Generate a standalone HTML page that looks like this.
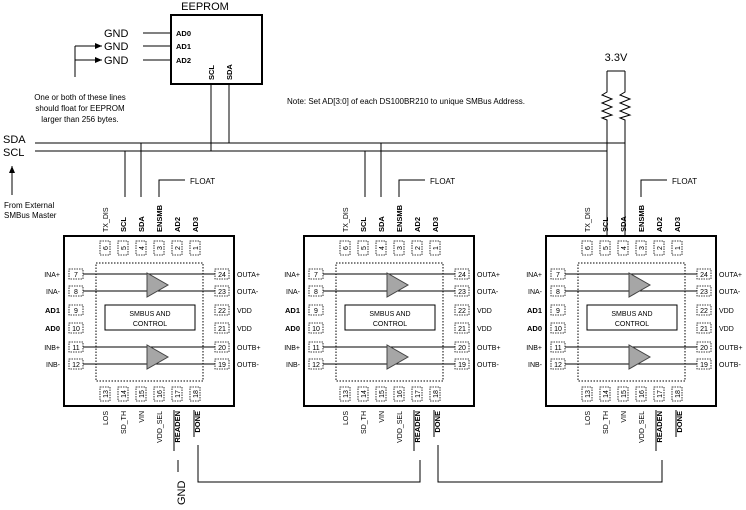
<!DOCTYPE html>
<html><head><style>
html,body{margin:0;padding:0;background:#fff;}
svg{display:block;font-family:"Liberation Sans",Arial,sans-serif;}
.s{font-size:8px;fill:#000}
.b{font-size:7.5px;font-weight:bold;fill:#000}
.n{font-size:7px;fill:#000}
.l{font-size:11px;fill:#000}
</style></head><body>
<svg width="746" height="510" viewBox="0 0 746 510" xmlns="http://www.w3.org/2000/svg">
<defs><marker id="ar" markerWidth="8" markerHeight="8" refX="7" refY="4" orient="auto" markerUnits="userSpaceOnUse"><path d="M0,1 L7,4 L0,7 Z" fill="#000"/></marker></defs>
<g stroke="#000" fill="none" stroke-width="1">
<!-- EEPROM -->
<rect x="171" y="15" width="91" height="69" stroke-width="2"/>
<line x1="143" y1="33" x2="171" y2="33"/><line x1="143" y1="46" x2="171" y2="46"/><line x1="143" y1="60" x2="171" y2="60"/>
<line x1="75" y1="77" x2="75" y2="46"/><line x1="75" y1="46" x2="102" y2="46" marker-end="url(#ar)"/><line x1="75" y1="60" x2="102" y2="60" marker-end="url(#ar)"/>
<line x1="211" y1="84" x2="211" y2="151"/><line x1="229" y1="84" x2="229" y2="143"/>
<!-- bus -->
<line x1="35" y1="143" x2="625" y2="143"/><line x1="35" y1="151" x2="607" y2="151"/>
<line x1="12" y1="195" x2="12" y2="166" marker-end="url(#ar)"/>
<!-- resistors -->
<polyline points="607,71 625,71"/>
<polyline points="607,71 607,92 602,95 612,99 602,103 612,107 602,111 612,115 602,118 607,120 607,236"/>
<polyline points="625,71 625,92 620,95 630,99 620,103 630,107 620,111 630,115 620,118 625,120 625,236"/>
<!-- chip1 wires -->
<line x1="125" y1="151" x2="125" y2="197"/><line x1="141" y1="143" x2="141" y2="197"/>
<line x1="365" y1="151" x2="365" y2="197"/><line x1="381" y1="143" x2="381" y2="197"/>
<!-- bottom -->
<line x1="178" y1="460" x2="178" y2="472"/>
<polyline points="198,445 198,482 420,482 420,460"/>
<polyline points="438,445 438,482 662,482 662,460"/>
</g>
<text x="205" y="10" class="l" text-anchor="middle" font-size="10">EEPROM</text>
<text x="104" y="37" class="l">GND</text><text x="104" y="50" class="l">GND</text><text x="104" y="64" class="l">GND</text>
<text x="176" y="36" class="b">AD0</text><text x="176" y="49" class="b">AD1</text><text x="176" y="63" class="b">AD2</text>
<text transform="translate(214,80) rotate(-90)" class="b">SCL</text>
<text transform="translate(232,80) rotate(-90)" class="b">SDA</text>
<text x="80" y="100" class="s" text-anchor="middle">One or both of these lines</text>
<text x="80" y="111" class="s" text-anchor="middle">should float for EEPROM</text>
<text x="80" y="122" class="s" text-anchor="middle">larger than 256 bytes.</text>
<text x="287" y="104" class="s">Note:  Set AD[3:0] of each DS100BR210 to unique SMBus Address.</text>
<text x="616" y="61" class="l" text-anchor="middle" font-size="10">3.3V</text>
<text x="3" y="143" class="l">SDA</text><text x="3" y="156" class="l">SCL</text>
<text x="4" y="208" class="s">From External</text><text x="4" y="218" class="s">SMBus Master</text>
<text transform="translate(185,505) rotate(-90)" class="l">GND</text>

<!-- CHIP TEMPLATE x3 -->
<g id="c1">
<g stroke="#000" fill="none">
<rect x="64" y="236" width="170" height="170" stroke-width="2"/>
<rect x="96" y="263" width="107" height="118" stroke-dasharray="1.5,1.5"/>
<rect x="105" y="305" width="90" height="25"/>
<line x1="83" y1="274" x2="215" y2="274"/><line x1="83" y1="291" x2="215" y2="291"/>
<line x1="83" y1="347" x2="215" y2="347"/><line x1="83" y1="364" x2="215" y2="364"/>
<polyline points="159,197 159,180 185,180"/>
<g stroke-dasharray="1.5,1" stroke-width="0.8">
<rect x="100" y="241" width="10" height="14"/><rect x="118" y="241" width="10" height="14"/><rect x="136" y="241" width="10" height="14"/><rect x="154" y="241" width="10" height="14"/><rect x="172" y="241" width="10" height="14"/><rect x="190" y="241" width="10" height="14"/>
<rect x="100" y="387" width="10" height="14"/><rect x="118" y="387" width="10" height="14"/><rect x="136" y="387" width="10" height="14"/><rect x="154" y="387" width="10" height="14"/><rect x="172" y="387" width="10" height="14"/><rect x="190" y="387" width="10" height="14"/>
<rect x="69" y="269" width="14" height="10" fill="#fff"/><rect x="69" y="286" width="14" height="10" fill="#fff"/><rect x="69" y="305" width="14" height="10"/><rect x="69" y="323" width="14" height="10"/><rect x="69" y="342" width="14" height="10" fill="#fff"/><rect x="69" y="359" width="14" height="10" fill="#fff"/>
<rect x="215" y="269" width="14" height="10" fill="#fff"/><rect x="215" y="286" width="14" height="10" fill="#fff"/><rect x="215" y="305" width="14" height="10"/><rect x="215" y="323" width="14" height="10"/><rect x="215" y="342" width="14" height="10" fill="#fff"/><rect x="215" y="359" width="14" height="10" fill="#fff"/>
</g>
<line x1="174" y1="451" x2="174" y2="410"/><line x1="194" y1="437" x2="194" y2="410"/>
</g>
<polygon points="147,273 147,297 168,285" fill="#a6a6a6" stroke="#444"/>
<polygon points="147,345 147,369 168,357" fill="#a6a6a6" stroke="#444"/>
<text x="150" y="316" class="n" text-anchor="middle">SMBUS AND</text><text x="150" y="326" class="n" text-anchor="middle">CONTROL</text>
<text x="190" y="184" class="s">FLOAT</text>
<text x="76" y="277" class="n" text-anchor="middle">7</text><text x="76" y="294" class="n" text-anchor="middle">8</text><text x="76" y="313" class="n" text-anchor="middle">9</text><text x="76" y="331" class="n" text-anchor="middle">10</text><text x="76" y="350" class="n" text-anchor="middle">11</text><text x="76" y="367" class="n" text-anchor="middle">12</text>
<text x="222" y="277" class="n" text-anchor="middle">24</text><text x="222" y="294" class="n" text-anchor="middle">23</text><text x="222" y="313" class="n" text-anchor="middle">22</text><text x="222" y="331" class="n" text-anchor="middle">21</text><text x="222" y="350" class="n" text-anchor="middle">20</text><text x="222" y="367" class="n" text-anchor="middle">19</text>
<text x="60" y="277" class="n" text-anchor="end">INA+</text><text x="60" y="294" class="n" text-anchor="end">INA-</text><text x="60" y="313" class="b" text-anchor="end">AD1</text><text x="60" y="331" class="b" text-anchor="end">AD0</text><text x="60" y="350" class="n" text-anchor="end">INB+</text><text x="60" y="367" class="n" text-anchor="end">INB-</text>
<text x="237" y="277" class="n">OUTA+</text><text x="237" y="294" class="n">OUTA-</text><text x="237" y="313" class="n">VDD</text><text x="237" y="331" class="n">VDD</text><text x="237" y="350" class="n">OUTB+</text><text x="237" y="367" class="n">OUTB-</text>
<text transform="translate(108,248) rotate(-90)" class="n" text-anchor="middle">6</text><text transform="translate(126,248) rotate(-90)" class="n" text-anchor="middle">5</text><text transform="translate(144,248) rotate(-90)" class="n" text-anchor="middle">4</text><text transform="translate(162,248) rotate(-90)" class="n" text-anchor="middle">3</text><text transform="translate(180,248) rotate(-90)" class="n" text-anchor="middle">2</text><text transform="translate(198,248) rotate(-90)" class="n" text-anchor="middle">1</text>
<text transform="translate(108,394) rotate(-90)" class="n" text-anchor="middle">13</text><text transform="translate(126,394) rotate(-90)" class="n" text-anchor="middle">14</text><text transform="translate(144,394) rotate(-90)" class="n" text-anchor="middle">15</text><text transform="translate(162,394) rotate(-90)" class="n" text-anchor="middle">16</text><text transform="translate(180,394) rotate(-90)" class="n" text-anchor="middle">17</text><text transform="translate(198,394) rotate(-90)" class="n" text-anchor="middle">18</text>
<text transform="translate(108,232) rotate(-90)" class="n">TX_DIS</text><text transform="translate(126,232) rotate(-90)" class="b">SCL</text><text transform="translate(144,232) rotate(-90)" class="b">SDA</text><text transform="translate(162,232) rotate(-90)" class="b">ENSMB</text><text transform="translate(180,232) rotate(-90)" class="b">AD2</text><text transform="translate(198,232) rotate(-90)" class="b">AD3</text>
<text transform="translate(108,411) rotate(-90)" class="n" text-anchor="end">LOS</text><text transform="translate(126,411) rotate(-90)" class="n" text-anchor="end">SD_TH</text><text transform="translate(144,411) rotate(-90)" class="n" text-anchor="end">VIN</text><text transform="translate(162,411) rotate(-90)" class="n" text-anchor="end">VDD_SEL</text><text transform="translate(180,411) rotate(-90)" class="b" text-anchor="end">READEN</text><text transform="translate(200,411) rotate(-90)" class="b" text-anchor="end">DONE</text>
</g>

<g transform="translate(240,0)">
<g stroke="#000" fill="none">
<rect x="64" y="236" width="170" height="170" stroke-width="2"/>
<rect x="96" y="263" width="107" height="118" stroke-dasharray="1.5,1.5"/>
<rect x="105" y="305" width="90" height="25"/>
<line x1="83" y1="274" x2="215" y2="274"/><line x1="83" y1="291" x2="215" y2="291"/>
<line x1="83" y1="347" x2="215" y2="347"/><line x1="83" y1="364" x2="215" y2="364"/>
<polyline points="159,197 159,180 185,180"/>
<g stroke-dasharray="1.5,1" stroke-width="0.8">
<rect x="100" y="241" width="10" height="14"/><rect x="118" y="241" width="10" height="14"/><rect x="136" y="241" width="10" height="14"/><rect x="154" y="241" width="10" height="14"/><rect x="172" y="241" width="10" height="14"/><rect x="190" y="241" width="10" height="14"/>
<rect x="100" y="387" width="10" height="14"/><rect x="118" y="387" width="10" height="14"/><rect x="136" y="387" width="10" height="14"/><rect x="154" y="387" width="10" height="14"/><rect x="172" y="387" width="10" height="14"/><rect x="190" y="387" width="10" height="14"/>
<rect x="69" y="269" width="14" height="10" fill="#fff"/><rect x="69" y="286" width="14" height="10" fill="#fff"/><rect x="69" y="305" width="14" height="10"/><rect x="69" y="323" width="14" height="10"/><rect x="69" y="342" width="14" height="10" fill="#fff"/><rect x="69" y="359" width="14" height="10" fill="#fff"/>
<rect x="215" y="269" width="14" height="10" fill="#fff"/><rect x="215" y="286" width="14" height="10" fill="#fff"/><rect x="215" y="305" width="14" height="10"/><rect x="215" y="323" width="14" height="10"/><rect x="215" y="342" width="14" height="10" fill="#fff"/><rect x="215" y="359" width="14" height="10" fill="#fff"/>
</g>
<line x1="174" y1="451" x2="174" y2="410"/><line x1="194" y1="437" x2="194" y2="410"/>
</g>
<polygon points="147,273 147,297 168,285" fill="#a6a6a6" stroke="#444"/>
<polygon points="147,345 147,369 168,357" fill="#a6a6a6" stroke="#444"/>
<text x="150" y="316" class="n" text-anchor="middle">SMBUS AND</text><text x="150" y="326" class="n" text-anchor="middle">CONTROL</text>
<text x="190" y="184" class="s">FLOAT</text>
<text x="76" y="277" class="n" text-anchor="middle">7</text><text x="76" y="294" class="n" text-anchor="middle">8</text><text x="76" y="313" class="n" text-anchor="middle">9</text><text x="76" y="331" class="n" text-anchor="middle">10</text><text x="76" y="350" class="n" text-anchor="middle">11</text><text x="76" y="367" class="n" text-anchor="middle">12</text>
<text x="222" y="277" class="n" text-anchor="middle">24</text><text x="222" y="294" class="n" text-anchor="middle">23</text><text x="222" y="313" class="n" text-anchor="middle">22</text><text x="222" y="331" class="n" text-anchor="middle">21</text><text x="222" y="350" class="n" text-anchor="middle">20</text><text x="222" y="367" class="n" text-anchor="middle">19</text>
<text x="60" y="277" class="n" text-anchor="end">INA+</text><text x="60" y="294" class="n" text-anchor="end">INA-</text><text x="60" y="313" class="b" text-anchor="end">AD1</text><text x="60" y="331" class="b" text-anchor="end">AD0</text><text x="60" y="350" class="n" text-anchor="end">INB+</text><text x="60" y="367" class="n" text-anchor="end">INB-</text>
<text x="237" y="277" class="n">OUTA+</text><text x="237" y="294" class="n">OUTA-</text><text x="237" y="313" class="n">VDD</text><text x="237" y="331" class="n">VDD</text><text x="237" y="350" class="n">OUTB+</text><text x="237" y="367" class="n">OUTB-</text>
<text transform="translate(108,248) rotate(-90)" class="n" text-anchor="middle">6</text><text transform="translate(126,248) rotate(-90)" class="n" text-anchor="middle">5</text><text transform="translate(144,248) rotate(-90)" class="n" text-anchor="middle">4</text><text transform="translate(162,248) rotate(-90)" class="n" text-anchor="middle">3</text><text transform="translate(180,248) rotate(-90)" class="n" text-anchor="middle">2</text><text transform="translate(198,248) rotate(-90)" class="n" text-anchor="middle">1</text>
<text transform="translate(108,394) rotate(-90)" class="n" text-anchor="middle">13</text><text transform="translate(126,394) rotate(-90)" class="n" text-anchor="middle">14</text><text transform="translate(144,394) rotate(-90)" class="n" text-anchor="middle">15</text><text transform="translate(162,394) rotate(-90)" class="n" text-anchor="middle">16</text><text transform="translate(180,394) rotate(-90)" class="n" text-anchor="middle">17</text><text transform="translate(198,394) rotate(-90)" class="n" text-anchor="middle">18</text>
<text transform="translate(108,232) rotate(-90)" class="n">TX_DIS</text><text transform="translate(126,232) rotate(-90)" class="b">SCL</text><text transform="translate(144,232) rotate(-90)" class="b">SDA</text><text transform="translate(162,232) rotate(-90)" class="b">ENSMB</text><text transform="translate(180,232) rotate(-90)" class="b">AD2</text><text transform="translate(198,232) rotate(-90)" class="b">AD3</text>
<text transform="translate(108,411) rotate(-90)" class="n" text-anchor="end">LOS</text><text transform="translate(126,411) rotate(-90)" class="n" text-anchor="end">SD_TH</text><text transform="translate(144,411) rotate(-90)" class="n" text-anchor="end">VIN</text><text transform="translate(162,411) rotate(-90)" class="n" text-anchor="end">VDD_SEL</text><text transform="translate(180,411) rotate(-90)" class="b" text-anchor="end">READEN</text><text transform="translate(200,411) rotate(-90)" class="b" text-anchor="end">DONE</text>
</g>

<g transform="translate(482,0)">
<g stroke="#000" fill="none">
<rect x="64" y="236" width="170" height="170" stroke-width="2"/>
<rect x="96" y="263" width="107" height="118" stroke-dasharray="1.5,1.5"/>
<rect x="105" y="305" width="90" height="25"/>
<line x1="83" y1="274" x2="215" y2="274"/><line x1="83" y1="291" x2="215" y2="291"/>
<line x1="83" y1="347" x2="215" y2="347"/><line x1="83" y1="364" x2="215" y2="364"/>
<polyline points="159,197 159,180 185,180"/>
<g stroke-dasharray="1.5,1" stroke-width="0.8">
<rect x="100" y="241" width="10" height="14"/><rect x="118" y="241" width="10" height="14"/><rect x="136" y="241" width="10" height="14"/><rect x="154" y="241" width="10" height="14"/><rect x="172" y="241" width="10" height="14"/><rect x="190" y="241" width="10" height="14"/>
<rect x="100" y="387" width="10" height="14"/><rect x="118" y="387" width="10" height="14"/><rect x="136" y="387" width="10" height="14"/><rect x="154" y="387" width="10" height="14"/><rect x="172" y="387" width="10" height="14"/><rect x="190" y="387" width="10" height="14"/>
<rect x="69" y="269" width="14" height="10" fill="#fff"/><rect x="69" y="286" width="14" height="10" fill="#fff"/><rect x="69" y="305" width="14" height="10"/><rect x="69" y="323" width="14" height="10"/><rect x="69" y="342" width="14" height="10" fill="#fff"/><rect x="69" y="359" width="14" height="10" fill="#fff"/>
<rect x="215" y="269" width="14" height="10" fill="#fff"/><rect x="215" y="286" width="14" height="10" fill="#fff"/><rect x="215" y="305" width="14" height="10"/><rect x="215" y="323" width="14" height="10"/><rect x="215" y="342" width="14" height="10" fill="#fff"/><rect x="215" y="359" width="14" height="10" fill="#fff"/>
</g>
<line x1="174" y1="451" x2="174" y2="410"/><line x1="194" y1="437" x2="194" y2="410"/>
</g>
<polygon points="147,273 147,297 168,285" fill="#a6a6a6" stroke="#444"/>
<polygon points="147,345 147,369 168,357" fill="#a6a6a6" stroke="#444"/>
<text x="150" y="316" class="n" text-anchor="middle">SMBUS AND</text><text x="150" y="326" class="n" text-anchor="middle">CONTROL</text>
<text x="190" y="184" class="s">FLOAT</text>
<text x="76" y="277" class="n" text-anchor="middle">7</text><text x="76" y="294" class="n" text-anchor="middle">8</text><text x="76" y="313" class="n" text-anchor="middle">9</text><text x="76" y="331" class="n" text-anchor="middle">10</text><text x="76" y="350" class="n" text-anchor="middle">11</text><text x="76" y="367" class="n" text-anchor="middle">12</text>
<text x="222" y="277" class="n" text-anchor="middle">24</text><text x="222" y="294" class="n" text-anchor="middle">23</text><text x="222" y="313" class="n" text-anchor="middle">22</text><text x="222" y="331" class="n" text-anchor="middle">21</text><text x="222" y="350" class="n" text-anchor="middle">20</text><text x="222" y="367" class="n" text-anchor="middle">19</text>
<text x="60" y="277" class="n" text-anchor="end">INA+</text><text x="60" y="294" class="n" text-anchor="end">INA-</text><text x="60" y="313" class="b" text-anchor="end">AD1</text><text x="60" y="331" class="b" text-anchor="end">AD0</text><text x="60" y="350" class="n" text-anchor="end">INB+</text><text x="60" y="367" class="n" text-anchor="end">INB-</text>
<text x="237" y="277" class="n">OUTA+</text><text x="237" y="294" class="n">OUTA-</text><text x="237" y="313" class="n">VDD</text><text x="237" y="331" class="n">VDD</text><text x="237" y="350" class="n">OUTB+</text><text x="237" y="367" class="n">OUTB-</text>
<text transform="translate(108,248) rotate(-90)" class="n" text-anchor="middle">6</text><text transform="translate(126,248) rotate(-90)" class="n" text-anchor="middle">5</text><text transform="translate(144,248) rotate(-90)" class="n" text-anchor="middle">4</text><text transform="translate(162,248) rotate(-90)" class="n" text-anchor="middle">3</text><text transform="translate(180,248) rotate(-90)" class="n" text-anchor="middle">2</text><text transform="translate(198,248) rotate(-90)" class="n" text-anchor="middle">1</text>
<text transform="translate(108,394) rotate(-90)" class="n" text-anchor="middle">13</text><text transform="translate(126,394) rotate(-90)" class="n" text-anchor="middle">14</text><text transform="translate(144,394) rotate(-90)" class="n" text-anchor="middle">15</text><text transform="translate(162,394) rotate(-90)" class="n" text-anchor="middle">16</text><text transform="translate(180,394) rotate(-90)" class="n" text-anchor="middle">17</text><text transform="translate(198,394) rotate(-90)" class="n" text-anchor="middle">18</text>
<text transform="translate(108,232) rotate(-90)" class="n">TX_DIS</text><text transform="translate(126,232) rotate(-90)" class="b">SCL</text><text transform="translate(144,232) rotate(-90)" class="b">SDA</text><text transform="translate(162,232) rotate(-90)" class="b">ENSMB</text><text transform="translate(180,232) rotate(-90)" class="b">AD2</text><text transform="translate(198,232) rotate(-90)" class="b">AD3</text>
<text transform="translate(108,411) rotate(-90)" class="n" text-anchor="end">LOS</text><text transform="translate(126,411) rotate(-90)" class="n" text-anchor="end">SD_TH</text><text transform="translate(144,411) rotate(-90)" class="n" text-anchor="end">VIN</text><text transform="translate(162,411) rotate(-90)" class="n" text-anchor="end">VDD_SEL</text><text transform="translate(180,411) rotate(-90)" class="b" text-anchor="end">READEN</text><text transform="translate(200,411) rotate(-90)" class="b" text-anchor="end">DONE</text>
</g>
</svg>
</body></html>
